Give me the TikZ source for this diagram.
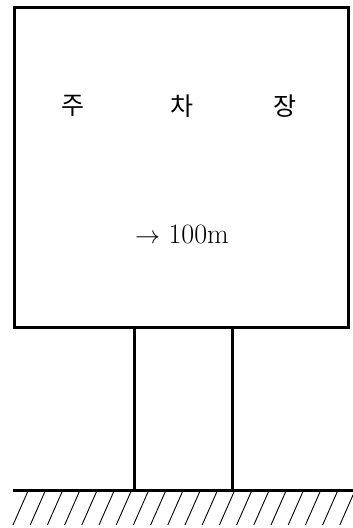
\documentclass[tikz,border=0pt]{standalone}
\usepackage{fontspec}
\newfontfamily\kr{Noto Sans CJK KR}
\begin{document}
\begin{tikzpicture}[x=1pt,y=-1pt,
  thick line/.style={line width=3pt},
  hatch/.style={line width=0.9pt},
  label kr/.style={font=\kr\fontsize{25}{28}\selectfont, inner sep=0pt},
  label lat/.style={font=\fontsize{28}{32}\selectfont, inner sep=0pt}]
\useasboundingbox (0,0) rectangle (353,528);
% sign board
\node[draw, thick line, minimum width=334pt, minimum height=320pt, inner sep=0pt, anchor=north west] (board) at (13,6) {};
% text
\node[label kr] (ju) at (73,106) {주};
\node[label kr] (cha) at (182,106) {차};
\node[label kr] (jang) at (285,106) {장};
\node[label lat] (dist) at (182,234) {$\rightarrow$ 100m};
% posts
\coordinate (p1t) at (134,326);
\coordinate (p2t) at (232,326);
\coordinate (p1b) at (134,490);
\coordinate (p2b) at (232,490);
\draw[thick line] (p1t) -- (p1b);
\draw[thick line] (p2t) -- (p2b);
% ground
\coordinate (gl) at (13,490);
\coordinate (gr) at (353,490);
\draw[thick line] (gl) -- (gr);
\foreach \i in {0,...,19} {
  \draw[hatch] ({13+\i*17.2},525) -- ({28+\i*17.2},491);
}
\end{tikzpicture}
\end{document}
